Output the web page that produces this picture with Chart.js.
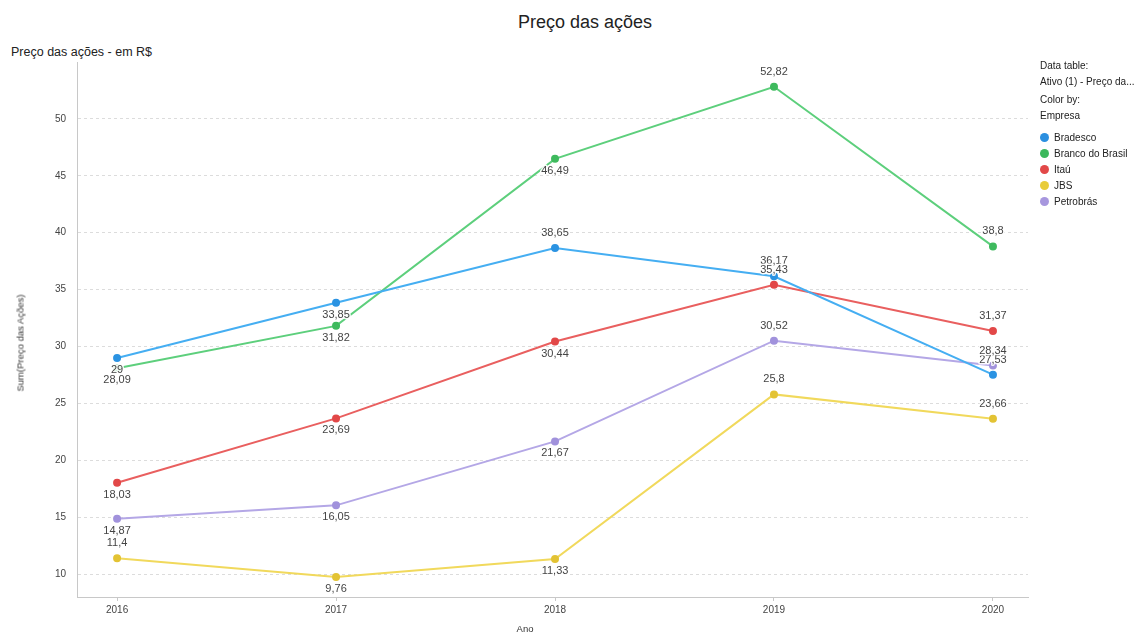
<!DOCTYPE html>
<html>
<head>
<meta charset="utf-8">
<script src="https://cdn.jsdelivr.net/npm/chart.js@4"></script>
<style>
  body { margin: 0; background: #fff; font-family: "Liberation Sans", Arial, sans-serif; }
  #wrap { position: relative; width: 1134px; height: 632px; overflow: hidden; }
  #chartBox { position: absolute; left: 0; top: 0; width: 1134px; height: 632px; }
  .title { position: absolute; top: 12px; left: 0; width: 1170px; text-align: center; font-size: 18px; color: #222; }
  .subtitle { position: absolute; top: 45px; left: 11px; font-size: 12.5px; color: #222; }
  .ytitle { position: absolute; left: 20px; top: 343px; transform: translate(-50%, -50%) rotate(-90deg); font-size: 9.5px; color: #333; white-space: nowrap; }
  .xtitle { position: absolute; left: 525px; top: 623px; transform: translateX(-50%); font-size: 9.5px; color: #333; }
  #legend { position: absolute; left: 1040px; top: 60px; font-size: 10px; color: #222; }
  #legend .row { height: 16px; line-height: 12px; white-space: nowrap; }
  #legend .item { height: 15.8px; display: flex; align-items: center; white-space: nowrap; }
  #legend .dot { width: 9px; height: 9px; border-radius: 50%; margin-right: 5px; }
</style>
</head>
<body>
<div id="wrap">
  <div class="title">Preço das ações</div>
  <div class="subtitle">Preço das ações - em R$</div>
  <div id="chartBox"><canvas id="precoChart"></canvas></div>
  <div class="ytitle">Sum(Preço das Ações)</div>
  <div class="xtitle">Ano</div>
  <div id="legend">
    <div class="row">Data table:</div>
    <div class="row" style="height:18px">Ativo (1) - Preço da...</div>
    <div class="row">Color by:</div>
    <div class="row" style="height:20px">Empresa</div>
    <div id="legendItems"></div>
  </div>
</div>
<script>
const anos = [2016, 2017, 2018, 2019, 2020];
const empresas = ['Bradesco', 'Branco do Brasil', 'Itaú', 'JBS', 'Petrobrás'];
const bradesco = [29, 33.85, 38.65, 36.17, 27.53];
const bancoBrasil = [28.09, 31.82, 46.49, 52.82, 38.8];
const itau = [18.03, 23.69, 30.44, 35.43, 31.37];
const jbs = [11.4, 9.76, 11.33, 25.8, 23.66];
const petrobras = [14.87, 16.05, 21.67, 30.52, 28.34];
const yTicks = [10, 15, 20, 25, 30, 35, 40, 45, 50];

const lineColors = ['#45aef2', '#5dcf7c', '#e95f5f', '#f1d95c', '#b4a7e6'];
const dotColors = ['#2b93e2', '#3fba5e', '#e24848', '#e3c334', '#a192dc'];
const legendColors = ['#2b8fe0', '#3cb85c', '#e24848', '#e8cc3a', '#a797de'];
// a = label above the point, b = below
const labelPos = [
    ['b', 'b', 'a', 'a', 'a'],
    ['b', 'b', 'b', 'a', 'a'],
    ['b', 'b', 'b', 'a', 'a'],
    ['a', 'b', 'b', 'a', 'a'],
    ['b', 'b', 'b', 'a', 'a']
];

const series = [bradesco, bancoBrasil, itau, jbs, petrobras];

document.getElementById('legendItems').innerHTML = empresas.map((e, i) => `
    <div class="item"><span class="dot" style="background:${legendColors[i]}"></span>${e}</div>
`).join('');

const valueLabels = {
    id: 'valueLabels',
    afterDatasetsDraw(chart) {
        const ctx = chart.ctx;
        ctx.save();
        ctx.font = '11px "Liberation Sans", Arial, sans-serif';
        ctx.textAlign = 'center';
        ctx.textBaseline = 'middle';
        ctx.lineWidth = 3;
        ctx.lineJoin = 'round';
        ctx.strokeStyle = 'rgba(255,255,255,0.9)';
        ctx.fillStyle = '#444';
        chart.data.datasets.forEach((ds, i) => {
            chart.getDatasetMeta(i).data.forEach((pt, j) => {
                const txt = String(ds.data[j].y).replace('.', ',');
                const dy = labelPos[i][j] === 'a' ? -15 : 12;
                ctx.strokeText(txt, pt.x, pt.y + dy);
                ctx.fillText(txt, pt.x, pt.y + dy);
            });
        });
        ctx.restore();
    }
};

new Chart(document.getElementById('precoChart'), {
    type: 'line',
    data: {
        datasets: series.map((s, i) => ({
            label: empresas[i],
            data: s.map((v, j) => ({ x: anos[j], y: v })),
            borderColor: lineColors[i],
            backgroundColor: dotColors[i],
            pointBackgroundColor: dotColors[i],
            pointBorderColor: dotColors[i],
            pointRadius: 3,
            borderWidth: 2,
            tension: 0
        }))
    },
    options: {
        responsive: true,
        maintainAspectRatio: false,
        animation: false,
        layout: { padding: { left: 0, top: 62, right: 106, bottom: 0 } },
        plugins: { legend: { display: false }, tooltip: { enabled: false } },
        scales: {
            x: {
                type: 'linear',
                min: 2015.817,
                max: 2020.16,
                afterBuildTicks: s => { s.ticks = anos.map(v => ({ value: v })); },
                afterFit: s => { s.height = 35; },
                grid: { drawOnChartArea: false, tickLength: 4, color: '#c8c8c8' },
                border: { color: '#c8c8c8' },
                ticks: { callback: v => String(v), color: '#444', font: { size: 10, family: '"Liberation Sans", Arial' }, padding: 3, maxRotation: 0 }
            },
            y: {
                min: 8,
                max: 55,
                afterBuildTicks: s => { s.ticks = yTicks.map(v => ({ value: v })); },
                afterFit: s => { s.width = 77; },
                grid: { color: '#dcdcdc', drawTicks: false },
                border: { color: '#c8c8c8', dash: [3, 3] },
                ticks: { color: '#444', font: { size: 10, family: '"Liberation Sans", Arial' }, padding: 11 }
            }
        }
    },
    plugins: [valueLabels]
});
</script>
</body>
</html>
